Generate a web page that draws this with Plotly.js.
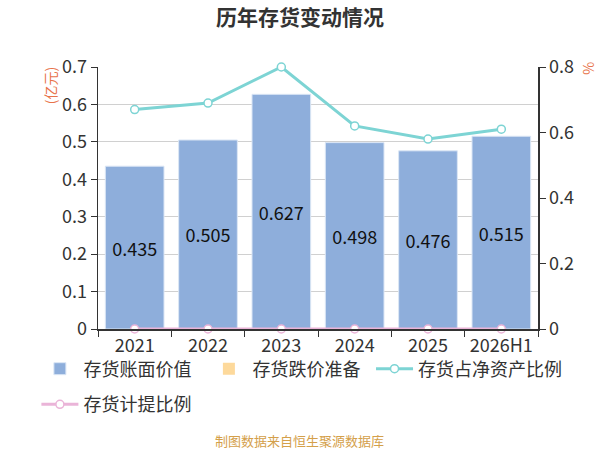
<!DOCTYPE html>
<html>
<head>
<meta charset="utf-8">
<script src="https://cdn.plot.ly/plotly-3.0.1.min.js"></script>
<style>
  html, body { margin: 0; padding: 0; background: #fff; }
  #chart { width: 600px; height: 450px; }
</style>
</head>
<body>
<div id="chart"></div>
<script>
// 历年存货变动情况
var years = ['2021', '2022', '2023', '2024', '2025', '2026H1'];
var bookValue = [0.435, 0.505, 0.627, 0.498, 0.476, 0.515];   // 存货账面价值 (亿元)
var impairment = [0, 0, 0, 0, 0, 0];                            // 存货跌价准备 (亿元)
var netAssetRatio = [0.67, 0.69, 0.80, 0.62, 0.58, 0.61];      // 存货占净资产比例 (%)
var provisionRatio = [0, 0, 0, 0, 0, 0];                        // 存货计提比例 (%)

var font = '"Noto Sans CJK SC", "Noto Sans", sans-serif';

var trace1 = {
  x: years,
  y: bookValue,
  name: '存货账面价值',
  type: 'bar',
  width: 0.8,
  marker: {color: '#8eaedb', line: {color: '#dbe6f5', width: 1}},
  text: bookValue.map(function (v) { return v.toFixed(3); }),
  textposition: 'inside',
  insidetextanchor: 'middle',
  textfont: {color: '#111', size: 18, family: font},
  legend: 'legend'
};

var trace2 = {
  x: years,
  y: impairment,
  name: '存货跌价准备',
  type: 'bar',
  width: 0.8,
  marker: {color: '#fdd99b'},
  legend: 'legend'
};

var trace3 = {
  x: years,
  y: netAssetRatio,
  name: '存货占净资产比例',
  type: 'scatter',
  mode: 'lines+markers',
  yaxis: 'y2',
  cliponaxis: false,
  line: {color: '#7dd4d4', width: 3},
  marker: {symbol: 'circle', size: 8, color: '#fff', line: {color: '#7dd4d4', width: 1.5}},
  legend: 'legend2'
};

var trace4 = {
  x: years,
  y: provisionRatio,
  name: '存货计提比例',
  type: 'scatter',
  mode: 'lines+markers',
  yaxis: 'y2',
  cliponaxis: false,
  line: {color: '#eab4d8', width: 3},
  marker: {symbol: 'circle', size: 8, color: '#fff', line: {color: '#eab4d8', width: 1.5}},
  legend: 'legend3'
};

var data = [trace1, trace2, trace3, trace4];

var legendStyle = {
  orientation: 'h',
  xanchor: 'left',
  yanchor: 'top',
  font: {size: 18, color: '#333', family: font},
  itemwidth: 37,
  bgcolor: 'rgba(0,0,0,0)'
};

var layout = {
  width: 600,
  height: 450,
  margin: {l: 98, r: 62, t: 67, b: 121},
  paper_bgcolor: '#fff',
  plot_bgcolor: '#fff',
  font: {family: font, color: '#333', size: 18},
  barmode: 'overlay',
  showlegend: true,
  title: {
    text: '<b>历年存货变动情况</b>',
    x: 0.5,
    xanchor: 'center',
    y: 0.96,
    yanchor: 'middle',
    font: {size: 21, color: '#333', family: font}
  },
  xaxis: {
    type: 'category',
    range: [-0.5, 5.5],
    showline: true,
    linecolor: '#333',
    linewidth: 1.5,
    ticks: 'outside',
    ticklen: 6,
    tickcolor: '#333',
    tickson: 'boundaries',
    showgrid: false,
    tickfont: {size: 18, color: '#333'}
  },
  yaxis: {
    range: [0, 0.7],
    dtick: 0.1,
    tickformat: '.1~f',
    showline: true,
    linecolor: '#333',
    linewidth: 1.5,
    ticks: 'outside',
    ticklen: 6,
    tickcolor: '#333',
    gridcolor: '#d0d0d0',
    zeroline: false,
    tickfont: {size: 18, color: '#333'}
  },
  yaxis2: {
    overlaying: 'y',
    side: 'right',
    range: [0, 0.8],
    dtick: 0.2,
    tickformat: '.1~f',
    showline: true,
    linecolor: '#333',
    linewidth: 1.5,
    ticks: 'outside',
    ticklen: 6,
    tickcolor: '#333',
    showgrid: false,
    zeroline: false,
    tickfont: {size: 18, color: '#333'}
  },
  legend: Object.assign({}, legendStyle, {
    x: -0.14, y: -0.082, entrywidth: 117, entrywidthmode: 'pixels'
  }),
  legend2: Object.assign({}, legendStyle, {x: 0.6205, y: -0.082}),
  legend3: Object.assign({}, legendStyle, {x: -0.14, y: -0.218}),
  annotations: [
    {
      text: '(亿元)', xref: 'paper', yref: 'paper', x: -0.109, y: 0.927,
      xanchor: 'center', yanchor: 'middle',
      showarrow: false, textangle: -90, font: {size: 14, color: '#e8734a'}
    },
    {
      text: '%', xref: 'paper', yref: 'paper', x: 1.113, y: 0.996,
      xanchor: 'center', yanchor: 'middle',
      showarrow: false, textangle: -90, font: {size: 14, color: '#e8734a'}
    },
    {
      text: '制图数据来自恒生聚源数据库', xref: 'paper', yref: 'paper', x: 0.459, y: -0.424,
      xanchor: 'center', yanchor: 'middle', showarrow: false,
      font: {size: 13, color: '#d4a04a'}
    }
  ]
};

Plotly.newPlot('chart', data, layout, {displayModeBar: false, staticPlot: true});
</script>
</body>
</html>
